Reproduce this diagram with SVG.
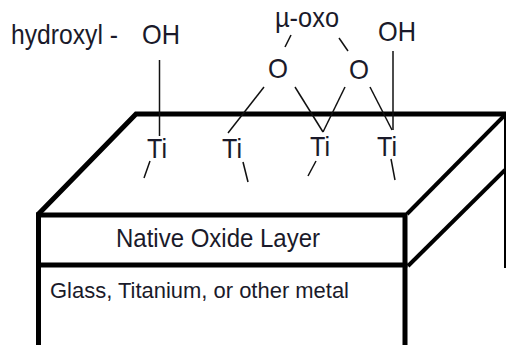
<svg xmlns="http://www.w3.org/2000/svg" width="506" height="345" viewBox="0 0 506 345">
<style>
text{font-family:"Liberation Sans",Arial,sans-serif;font-size:28px;fill:#1a1a2a}
.s{fill:none;stroke:#000;stroke-width:5;stroke-linecap:square;stroke-linejoin:miter}
.b{fill:none;stroke:#000;stroke-width:4}
.t{fill:none;stroke:#111;stroke-width:1.5}
</style>
<rect width="506" height="345" fill="#fff"/>
<g id="block">
<path class="s" d="M38.500 345V214L136 114H506"/>
<path class="s" d="M38.500 215H405V345"/>
<path class="s" d="M38.500 265H405"/>
<path class="b" d="M407 214L505 115"/>
<path class="b" d="M408 266L505 170"/>
<path d="M505 114V268" fill="none" stroke="#000" stroke-width="2"/>
</g>
<g id="connectors">
<path class="t" d="M159.500 60V136"/>
<path class="t" d="M150 161L144 178"/>
<path class="t" d="M228 133L264 87"/>
<path class="t" d="M243 162L248 182"/>
<path class="t" d="M291 35L285 47"/>
<path class="t" d="M339 38L348 51"/>
<path class="t" d="M295 87L323 132"/>
<path class="t" d="M345 87L323 132"/>
<path class="t" d="M370 87L392 130"/>
<path class="t" d="M393 51V130"/>
<path class="t" d="M316 161L308 176"/>
<path class="t" d="M391 159L395 180"/>
</g>
<g id="label-hydroxyl"><text x="11" y="44" textLength="107" lengthAdjust="spacingAndGlyphs">hydroxyl -</text></g>
<g id="oh-left"><text x="142" y="44" textLength="38" lengthAdjust="spacingAndGlyphs">OH</text></g>
<g id="mu-oxo"><text x="275" y="27" textLength="64" lengthAdjust="spacingAndGlyphs">µ-oxo</text></g>
<g id="oh-right"><text x="378" y="41" textLength="38" lengthAdjust="spacingAndGlyphs">OH</text></g>
<g id="o-left"><text x="268" y="78" textLength="20" lengthAdjust="spacingAndGlyphs">O</text></g>
<g id="o-right"><text x="349" y="79" textLength="20" lengthAdjust="spacingAndGlyphs">O</text></g>
<g id="ti-1"><text x="147" y="158" textLength="20" lengthAdjust="spacingAndGlyphs">Ti</text></g>
<g id="ti-2"><text x="222" y="158" textLength="20" lengthAdjust="spacingAndGlyphs">Ti</text></g>
<g id="ti-3"><text x="310" y="156" textLength="20" lengthAdjust="spacingAndGlyphs">Ti</text></g>
<g id="ti-4"><text x="377" y="156" textLength="20" lengthAdjust="spacingAndGlyphs">Ti</text></g>
<g id="native-oxide"><text x="116" y="247" textLength="204" lengthAdjust="spacingAndGlyphs" style="font-size:25px">Native Oxide Layer</text></g>
<g id="substrate"><text x="50" y="298" style="font-size:22px" textLength="299" lengthAdjust="spacingAndGlyphs">Glass, Titanium, or other metal</text></g>
</svg>
